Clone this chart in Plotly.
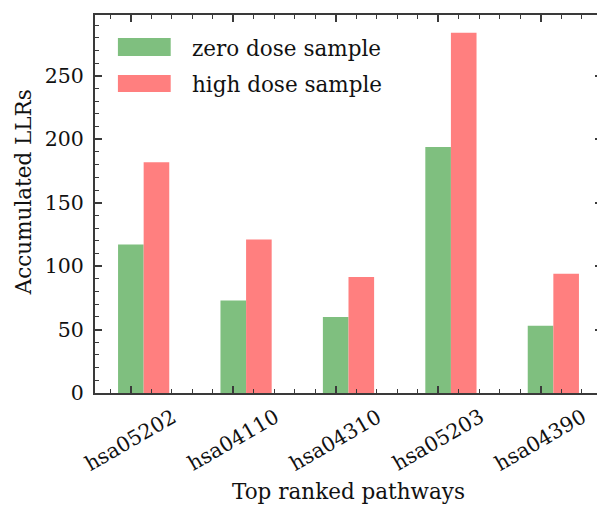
import plotly.graph_objects as go

# Accumulated log-likelihood ratios for the top ranked pathways
pathways = ["hsa05202", "hsa04110", "hsa04310", "hsa05203", "hsa04390"]
zero_dose = [117, 73, 60, 194, 53]
high_dose = [182, 121, 91.5, 284, 94]
series_names = ["zero dose sample", "high dose sample"]
x_title = "Top ranked pathways"
y_title = "Accumulated LLRs"

GREEN = "#7fbf7f"
RED = "#ff7f7f"
AXIS = "#3a3a3a"
TEXT = "#111111"
FONT = "DejaVu Serif"
FS = 21.5

positions = list(range(len(pathways)))
BAR_W = 0.25

fig = go.Figure()
# green bar centred on the category tick, red bar directly to its right
fig.add_trace(go.Bar(x=positions, y=zero_dose, width=BAR_W, offset=-BAR_W / 2,
                     marker=dict(color=GREEN, line=dict(width=0)),
                     name=series_names[0], showlegend=False))
fig.add_trace(go.Bar(x=positions, y=high_dose, width=BAR_W, offset=BAR_W / 2,
                     marker=dict(color=RED, line=dict(width=0)),
                     name=series_names[1], showlegend=False))

# plot area geometry in pixels (right frame edge sits just past the page edge)
L, R, T, B = 95, 604, 15, 393
W_FIG, H_FIG = 608, 510


def px(x):
    return (x - L) / (R - L)


def py(y):
    return (B - y) / (B - T)


# legend: wide colour patches with labels
for (y0, y1, color, label) in [(38, 56, GREEN, series_names[0]),
                                (75, 92, RED, series_names[1])]:
    fig.add_shape(type="rect", xref="paper", yref="paper",
                  x0=px(118), x1=px(171), y0=py(y1), y1=py(y0),
                  fillcolor=color, line=dict(width=0))
    fig.add_annotation(xref="paper", yref="paper", x=px(190), y=py((y0 + y1) / 2 + 1),
                       text=label, showarrow=False, xanchor="left", yanchor="middle",
                       font=dict(family=FONT, size=FS, color=TEXT))

# rotated category labels, centred under each tick
for pos, name in zip(positions, pathways):
    fig.add_annotation(x=pos, xref="x", yref="paper", y=py(402),
                       text=name, textangle=-30, showarrow=False,
                       xanchor="center", yanchor="top",
                       font=dict(family=FONT, size=20.5, color=TEXT))

# axis titles
fig.add_annotation(xref="paper", yref="paper", x=px(350), y=py(491),
                   text=x_title, showarrow=False, xanchor="center", yanchor="middle",
                   font=dict(family=FONT, size=FS, color=TEXT))
fig.add_annotation(xref="paper", yref="paper", x=px(23), y=py(192),
                   text=y_title, textangle=-90, showarrow=False,
                   xanchor="center", yanchor="middle",
                   font=dict(family=FONT, size=FS, color=TEXT))

tick_common = dict(ticks="inside", ticklen=7, tickwidth=1.5, tickcolor=AXIS,
                   showline=True, linecolor=AXIS, linewidth=2, mirror="allticks",
                   showgrid=False, zeroline=False,
                   tickfont=dict(family=FONT, size=20.5, color=TEXT))

fig.update_xaxes(range=[-0.35, 4.6], tickmode="array", tickvals=positions,
                 showticklabels=False,
                 minor=dict(dtick=0.2, tick0=0, ticks="inside", ticklen=4,
                            tickwidth=1.2, tickcolor=AXIS),
                 **tick_common)
fig.update_yaxes(range=[0, 298], dtick=50, tick0=0, ticklabelstandoff=5,
                 minor=dict(dtick=10, ticks="inside", ticklen=4,
                            tickwidth=1.2, tickcolor=AXIS),
                 **tick_common)

fig.update_layout(width=W_FIG, height=H_FIG, barmode="overlay",
                  margin=dict(l=L, r=W_FIG - R, t=T, b=H_FIG - B),
                  plot_bgcolor="white", paper_bgcolor="white",
                  font=dict(family=FONT, size=FS, color=TEXT))

fig.write_html("out.html",
               post_script="document.documentElement.style.overflow='hidden';"
                           "document.body.style.overflow='hidden';"
                           "document.body.style.margin='0';")
